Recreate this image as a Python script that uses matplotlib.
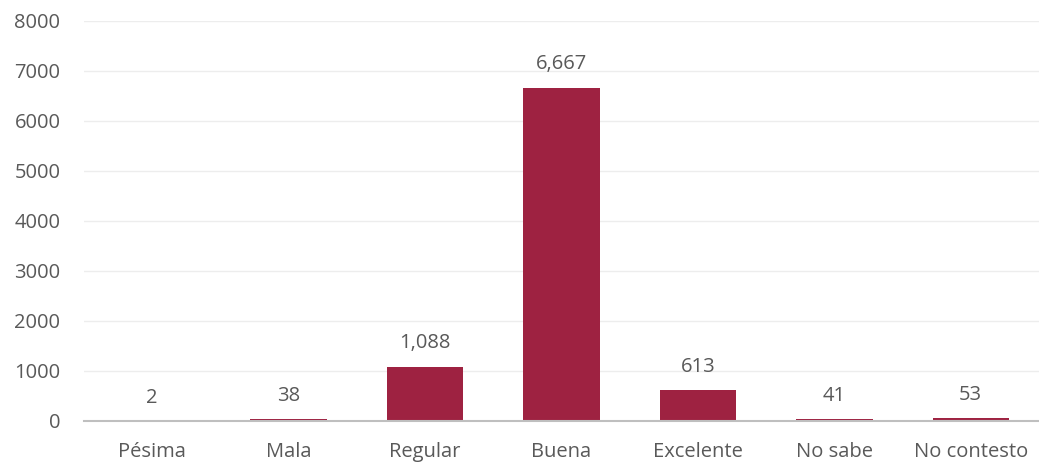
import matplotlib.pyplot as plt

categorias = ['Pésima', 'Mala', 'Regular', 'Buena', 'Excelente', 'No sabe', 'No contesto']
valores = [2, 38, 1088, 6667, 613, 41, 53]
yticks = [0, 1000, 2000, 3000, 4000, 5000, 6000, 7000, 8000]

plt.rcParams['font.family'] = ['Open Sans', 'DejaVu Sans']
gris = '#595959'

fig = plt.figure(figsize=(10.39, 4.62), dpi=100)
ax = fig.add_axes([84 / 1039, 41 / 462, 955 / 1039, 400 / 462])

x = range(len(categorias))
bars = ax.bar(x, valores, width=0.56, color='#9E2241', zorder=3)

for xi, v in zip(x, valores):
    ax.annotate(f'{v:,}', (xi, v), xytext=(0, 9.5), textcoords='offset points',
                ha='center', va='bottom', fontsize=14.5, color=gris)

ax.set_xlim(-0.5, len(categorias) - 0.5)
ax.set_ylim(0, 8000)
ax.set_yticks(yticks)
ax.set_yticklabels([str(t) for t in yticks])
ax.set_xticks(list(x))
ax.set_xticklabels(categorias)
ax.tick_params(axis='both', length=0, labelsize=14.5, labelcolor=gris)
ax.tick_params(axis='y', pad=17)
ax.tick_params(axis='x', pad=15)

ax.grid(axis='y', color='#EDEDED', linewidth=1, zorder=0)
for s in ['top', 'right', 'left']:
    ax.spines[s].set_visible(False)
ax.spines['bottom'].set_color('#BFBFBF')
ax.spines['bottom'].set_linewidth(1.5)
ax.spines['bottom'].set_zorder(4)

fig.savefig('out.png', dpi=100)
